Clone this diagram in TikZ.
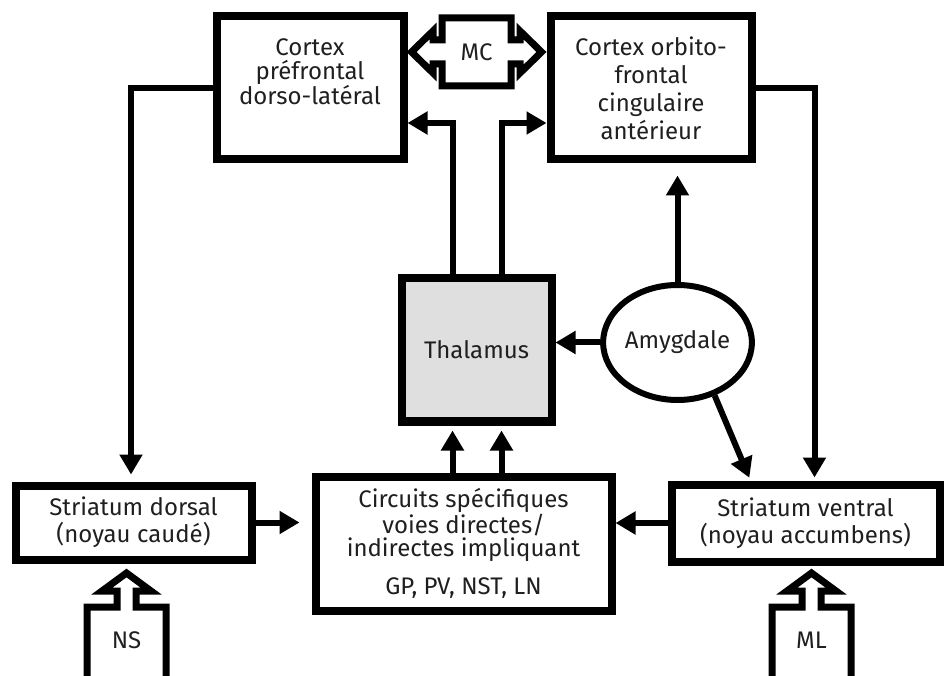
\documentclass[tikz,border=0pt]{standalone}
\usepackage{fontspec}
\setmainfont{Fira Sans}
\usetikzlibrary{arrows.meta,shapes.geometric,calc}

\begin{document}
\begin{tikzpicture}[x=1pt,y=1pt]
    \tikzstyle{edge}  = [line width=6pt,draw=black]
    \tikzstyle{dedge} = [edge,-{Triangle[length=20pt,width=22pt]}]
    \tikzstyle{box}=[
      rectangle,
      draw=black,
      line width=8pt,
      align=center,
      inner sep=0pt,
      text=black!88,
      font=\fontsize{24}{27}\selectfont,
    ]
    \tikzstyle{txt}=[
      align=center,
      inner sep=0pt,
      text=black!88,
      font=\fontsize{24}{23.5}\selectfont,
    ]
    \tikzstyle{blob}=[
      box,
      ellipse,
      line width=6pt,
    ]
    \tikzstyle{inlet}=[
      draw=black,
      line width=7pt,
      line join=miter,
    ]

    \useasboundingbox (0,0) rectangle (944,675);
    \clip (0,0) rectangle (944,675);

    \coordinate (topAnchor) at (0,587);
    \coordinate (midAnchor) at (0,325);
    \coordinate (lowAnchor) at (0,152);
    \coordinate (footAnchor) at (0,35);

    % cortex
    {
      \node[box, minimum width=187pt, minimum height=143pt] (dlpfc) at ([xshift=310pt, yshift=0pt] topAnchor) {};
      \node[txt] (dlpfcText) at ([yshift=16pt] dlpfc.center) {Cortex\\préfrontal\\dorso-latéral};
      \node[box, minimum width=201pt, minimum height=143pt, font=\fontsize{24}{28}\selectfont] (ofc) at ([xshift=651pt, yshift=0pt] topAnchor) {Cortex orbito-\\frontal\\cingulaire\\antérieur};
      \node[txt] (mc) at ([xshift=476.5pt, yshift=36pt] topAnchor) {MC};
      \draw[inlet] ([xshift=-34.5pt, yshift=34pt] mc.center) -- ([xshift=34.5pt, yshift=34pt] mc.center)
        -- ([xshift=34.5pt, yshift=12pt] mc.center) -- ([xshift=43.5pt, yshift=12pt] mc.center)
        -- ([xshift=43.5pt, yshift=21pt] mc.center) -- ([xshift=65pt, yshift=0pt] mc.center)
        -- ([xshift=43.5pt, yshift=-21pt] mc.center) -- ([xshift=43.5pt, yshift=-12pt] mc.center)
        -- ([xshift=34.5pt, yshift=-12pt] mc.center) -- ([xshift=34.5pt, yshift=-34pt] mc.center)
        -- ([xshift=-34.5pt, yshift=-34pt] mc.center) -- ([xshift=-34.5pt, yshift=-12pt] mc.center)
        -- ([xshift=-43.5pt, yshift=-12pt] mc.center) -- ([xshift=-43.5pt, yshift=-21pt] mc.center)
        -- ([xshift=-65pt, yshift=0pt] mc.center) -- ([xshift=-43.5pt, yshift=21pt] mc.center)
        -- ([xshift=-43.5pt, yshift=12pt] mc.center) -- ([xshift=-34.5pt, yshift=12pt] mc.center) -- cycle;
    }

    % thalamus and amygdala
    {
      \node[box, fill=gray!25, minimum width=150pt, minimum height=143pt] (thal) at ([xshift=476.5pt, yshift=0pt] midAnchor) {Thalamus};
      \node[blob, minimum width=129pt, minimum height=115pt] (amyg) at ([xshift=677.5pt, yshift=7.5pt] midAnchor) {Amygdale};
    }

    % striatum
    {
      \node[box, minimum width=236pt, minimum height=74pt] (sdors) at ([xshift=133.5pt, yshift=0.5pt] lowAnchor) {Striatum dorsal\\(noyau caudé)};
      \node[box, minimum width=296pt, minimum height=134pt, font=\fontsize{24}{23.5}\selectfont] (circ) at ([xshift=463.5pt, yshift=-20.5pt] lowAnchor) {Circuits spécifiques\\voies directes/\\indirectes impliquant\\[14pt]GP, PV, NST, LN};
      \node[box, minimum width=268pt, minimum height=77pt] (svent) at ([xshift=805.5pt, yshift=0pt] lowAnchor) {Striatum ventral\\(noyau accumbens)};
    }

    % inputs
    {
      \node[txt] (ns) at ([xshift=126.5pt, yshift=0pt] footAnchor) {NS};
      \node[txt] (ml) at ([xshift=811.5pt, yshift=0pt] footAnchor) {ML};
      \foreach \src in {ns, ml} {
        \draw[inlet] ([xshift=-39.5pt, yshift=-45pt] \src.center) -- ([xshift=-39.5pt, yshift=33pt] \src.center)
          -- ([xshift=-9.5pt, yshift=33pt] \src.center) -- ([xshift=-9.5pt, yshift=49pt] \src.center)
          -- ([xshift=-24.5pt, yshift=49pt] \src.center) -- ([xshift=0pt, yshift=67pt] \src.center)
          -- ([xshift=24.5pt, yshift=49pt] \src.center) -- ([xshift=9.5pt, yshift=49pt] \src.center)
          -- ([xshift=9.5pt, yshift=33pt] \src.center) -- ([xshift=39.5pt, yshift=33pt] \src.center)
          -- ([xshift=39.5pt, yshift=-45pt] \src.center);
      }
    }

    % loops
    {
      \coordinate (thalL) at ([xshift=-24pt] thal.south);
      \coordinate (thalR) at ([xshift=25pt] thal.south);
      \draw[dedge, shorten >=7pt] (dlpfc.west) -| ([xshift=-2.5pt] sdors.north);
      \draw[dedge, shorten >=3pt] (ofc.east) -| ([xshift=9pt] svent.north);
      \draw[dedge] ([xshift=-24pt] thal.north) |- ([yshift=-35pt] dlpfc.east);
      \draw[dedge] ([xshift=25pt] thal.north) |- ([yshift=-35pt] ofc.west);
      \draw[dedge, shorten >=12pt] (amyg.north) -- (amyg.north |- ofc.south);
      \draw[dedge] (amyg.west) -- (amyg.west -| thal.east);
      \draw[dedge, shorten >=3pt] (amyg.-55) -- ([xshift=-55pt] svent.north);
      \draw[dedge, shorten >=5pt] (thalL |- circ.north) -- (thalL);
      \draw[dedge, shorten >=5pt] (thalR |- circ.north) -- (thalR);
      \draw[dedge, shorten >=12pt] (sdors.east) -- (sdors.east -| circ.west);
      \draw[dedge] (svent.west) -- (svent.west -| circ.east);
    }
  \end{tikzpicture}
\end{document}
